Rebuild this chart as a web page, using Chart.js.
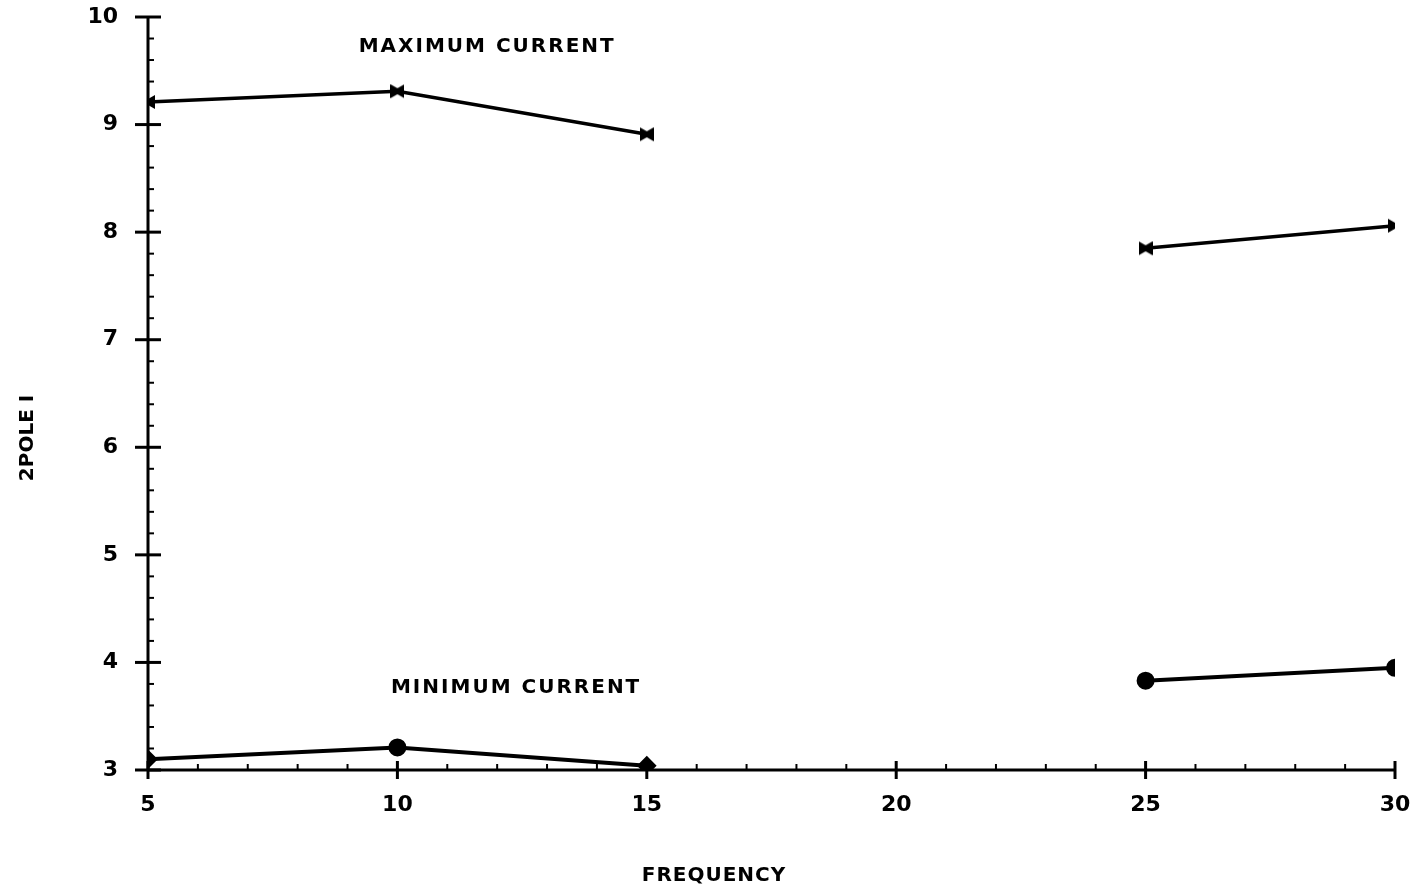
<!DOCTYPE html>
<html>
<head>
<meta charset="utf-8">
<script src="https://cdn.jsdelivr.net/npm/chart.js@4"></script>
<style>
  html, body { margin: 0; padding: 0; background: #fff; }
  #wrap { width: 1419px; height: 893px; }
</style>
</head>
<body>
<div id="wrap"><canvas id="chart"></canvas></div>
<script>
// values
const frequency = [5, 10, 15, 20, 25, 30];
const maxCurrent = [9.21, 9.31, 8.91, null, 7.85, 8.06];
const minCurrent = [3.10, 3.21, 3.04, null, 3.83, 3.95];
const minStyles = ['rectRot', 'circle', 'rectRot', 'circle', 'circle', 'circle'];
const xTitle = 'FREQUENCY';
const yTitle = '2POLE I';

const FONT = 'DejaVu Sans';

// little bowtie marker like the plotter used for the max curve
function bowtie() {
  const c = document.createElement('canvas');
  c.width = 14; c.height = 16;
  const g = c.getContext('2d');
  g.fillStyle = '#000';
  g.beginPath();
  g.moveTo(0, 1); g.lineTo(7, 5); g.lineTo(14, 1); g.lineTo(14, 15);
  g.lineTo(7, 11); g.lineTo(0, 15); g.closePath();
  g.fill();
  return c;
}

// axis lines, major/minor ticks, axis titles and the two curve labels
const plotterAxes = {
  id: 'plotterAxes',
  afterDraw(chart) {
    const { ctx, chartArea: a, scales: { x, y } } = chart;
    ctx.save();
    ctx.strokeStyle = '#000';
    ctx.lineCap = 'butt';

    ctx.lineWidth = 3;
    ctx.beginPath();
    ctx.moveTo(a.left, a.top); ctx.lineTo(a.left, a.bottom);
    ctx.moveTo(a.left, a.bottom); ctx.lineTo(a.right, a.bottom);
    ctx.stroke();

    // y ticks
    for (let v = 3; v <= 10.001; v += 0.2) {
      const py = y.getPixelForValue(v);
      const major = Math.abs(v - Math.round(v)) < 0.01;
      ctx.lineWidth = major ? 3 : 2;
      ctx.beginPath();
      if (major) { ctx.moveTo(a.left - 13, py); ctx.lineTo(a.left + 13, py); }
      else { ctx.moveTo(a.left, py); ctx.lineTo(a.left + 6, py); }
      ctx.stroke();
    }
    // x ticks
    for (let v = 5; v <= 30; v += 1) {
      const px = x.getPixelForValue(v);
      const major = v % 5 === 0;
      ctx.lineWidth = major ? 3 : 2;
      ctx.beginPath();
      if (major) { ctx.moveTo(px, a.bottom - 9); ctx.lineTo(px, a.bottom + 9); }
      else { ctx.moveTo(px, a.bottom); ctx.lineTo(px, a.bottom - 6); }
      ctx.stroke();
    }

    ctx.fillStyle = '#000';
    ctx.textAlign = 'center';
    ctx.textBaseline = 'middle';
    ctx.font = 'bold 20px ' + FONT;
    ctx.letterSpacing = '2px';
    ctx.fillText('MAXIMUM CURRENT', x.getPixelForValue(11.8), y.getPixelForValue(9.72));
    ctx.fillText('MINIMUM CURRENT', x.getPixelForValue(12.38), y.getPixelForValue(3.76));

    ctx.letterSpacing = '1px';
    ctx.fillText(xTitle, 714, 876);
    ctx.letterSpacing = '0px';
    ctx.translate(28, 438);
    ctx.rotate(-Math.PI / 2);
    ctx.fillText(yTitle, 0, 0);
    ctx.restore();
  }
};

const pts = arr => frequency.map((f, i) => ({ x: f, y: arr[i] }));

new Chart(document.getElementById('chart'), {
  type: 'line',
  data: {
    datasets: [
      {
        label: 'Maximum current',
        data: pts(maxCurrent),
        borderColor: '#000',
        borderWidth: 3.5,
        pointStyle: bowtie(),
        spanGaps: false
      },
      {
        label: 'Minimum current',
        data: pts(minCurrent),
        borderColor: '#000',
        backgroundColor: '#000',
        borderWidth: 4,
        pointStyle: minStyles,
        pointRadius: 7,
        spanGaps: false
      }
    ]
  },
  options: {
    responsive: true,
    maintainAspectRatio: false,
    animation: false,
    layout: { padding: { left: 0, right: 24, top: 17, bottom: 0 } },
    plugins: { legend: { display: false }, tooltip: { enabled: false } },
    scales: {
      x: {
        type: 'linear',
        min: 5, max: 30,
        grid: { display: false },
        border: { display: false },
        ticks: { stepSize: 5, color: '#000', padding: 14, font: { family: FONT, size: 22, weight: 'bold' } },
        afterFit: s => { s.height = 123; s.paddingLeft = 0; s.paddingRight = 0; }
      },
      y: {
        min: 3, max: 10,
        grid: { display: false },
        border: { display: false },
        ticks: { stepSize: 1, color: '#000', padding: 22, font: { family: FONT, size: 22, weight: 'bold' } },
        afterFit: s => { s.width = 148; s.paddingTop = 0; s.paddingBottom = 0; }
      }
    }
  },
  plugins: [plotterAxes]
});
</script>
</body>
</html>
